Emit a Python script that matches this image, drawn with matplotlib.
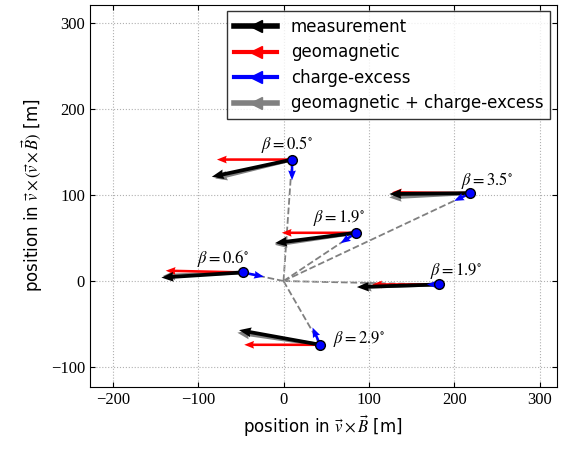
import numpy as np
import matplotlib.pyplot as plt
from matplotlib.lines import Line2D

plt.rcParams['mathtext.fontset'] = 'stix'

# station positions [m]
pos_x = [10, 219, 85, -48, 182, 43]
pos_y = [141, 102, 56, 10, -4, -74]
beta = ['0.5', '3.5', '1.9', '0.6', '1.9', '2.9']

# arrow components
meas_x = [-94, -95, -95, -95, -96, -95]
meas_y = [-20, -1, -12, -6, -3, 17]
geo_x = [-88, -92, -87, -90, -78, -89]
geo_y = [0, 1, 0, 2, 0, 0]
ce_x = [0, -19, -18, 25, -14, -9]
ce_y = [-24, -9, -12, -5, 0, 20]
sum_x = [-90, -95, -95, -93, -93, -97]
sum_y = [-22, -5, -14, -4, -3, 14]

label_off = [(-4, 11), (12, 9), (-12, 11), (-14, 10), (12, 10), (28, 4)]

fig, ax = plt.subplots(figsize=(5.68, 4.5), dpi=100)
fig.subplots_adjust(left=0.158, right=0.98, bottom=0.14, top=0.99)

for x, y in zip(pos_x, pos_y):
    ax.plot([0, x], [0, y], ls='--', color='gray', lw=1.3, zorder=1)

kw = dict(angles='xy', scale_units='xy', scale=1, zorder=3)
ax.quiver(pos_x, pos_y, sum_x, sum_y, color='gray', width=0.008, headwidth=2.6, headlength=3.2, headaxislength=3, **kw)
ax.quiver(pos_x, pos_y, geo_x, geo_y, color='red', width=0.0055, headwidth=3, headlength=3.8, headaxislength=3.5, **kw)
ax.quiver(pos_x, pos_y, meas_x, meas_y, color='black', width=0.008, headwidth=2.6, headlength=3.2, headaxislength=3, **kw)
ax.quiver(pos_x, pos_y, ce_x, ce_y, color='blue', width=0.0055, headwidth=3, headlength=3.8, headaxislength=3.5, **kw)
ax.plot(pos_x, pos_y, 'o', color='blue', mec='black', ms=7, zorder=5)

for x, y, b, (ox, oy) in zip(pos_x, pos_y, beta, label_off):
    ax.annotate(r'$\beta = %s^{\circ}$' % b, (x, y), xytext=(ox, oy),
                textcoords='offset points', ha='center', va='center', fontsize=12)

ax.set_xlim(-227, 320)
ax.set_ylim(-123, 321)
ax.set_xticks([-200, -100, 0, 100, 200, 300])
ax.set_yticks([-100, 0, 100, 200, 300])
ax.grid(True, ls=':', color='#b0b0b0', lw=0.8)
for lab in ax.get_xticklabels() + ax.get_yticklabels():
    lab.set_fontfamily('Liberation Serif')
    lab.set_fontsize(12)
ax.tick_params(direction='in', top=True, right=True)
ax.set_xlabel(r'position in $\vec{v} \times \vec{B}$ [m]', fontsize=12)
ax.set_ylabel(r'position in $\vec{v} \times (\vec{v} \times \vec{B})$ [m]', fontsize=12)

handles = [
    Line2D([], [], color='black', lw=4, marker='<', ms=9),
    Line2D([], [], color='red', lw=3, marker='<', ms=8),
    Line2D([], [], color='blue', lw=3, marker='<', ms=8),
    Line2D([], [], color='gray', lw=4, marker='<', ms=9),
]
for h in handles:
    h.set_markevery([0])
leg = ax.legend(handles, ['measurement', 'geomagnetic', 'charge-excess',
                          'geomagnetic + charge-excess'],
                loc='upper right', fancybox=False, edgecolor='black',
                fontsize=12, handlelength=2.6, borderaxespad=0.4,
                labelspacing=0.45)
leg.get_frame().set_linewidth(1.0)

fig.savefig('out.png', dpi=100)
